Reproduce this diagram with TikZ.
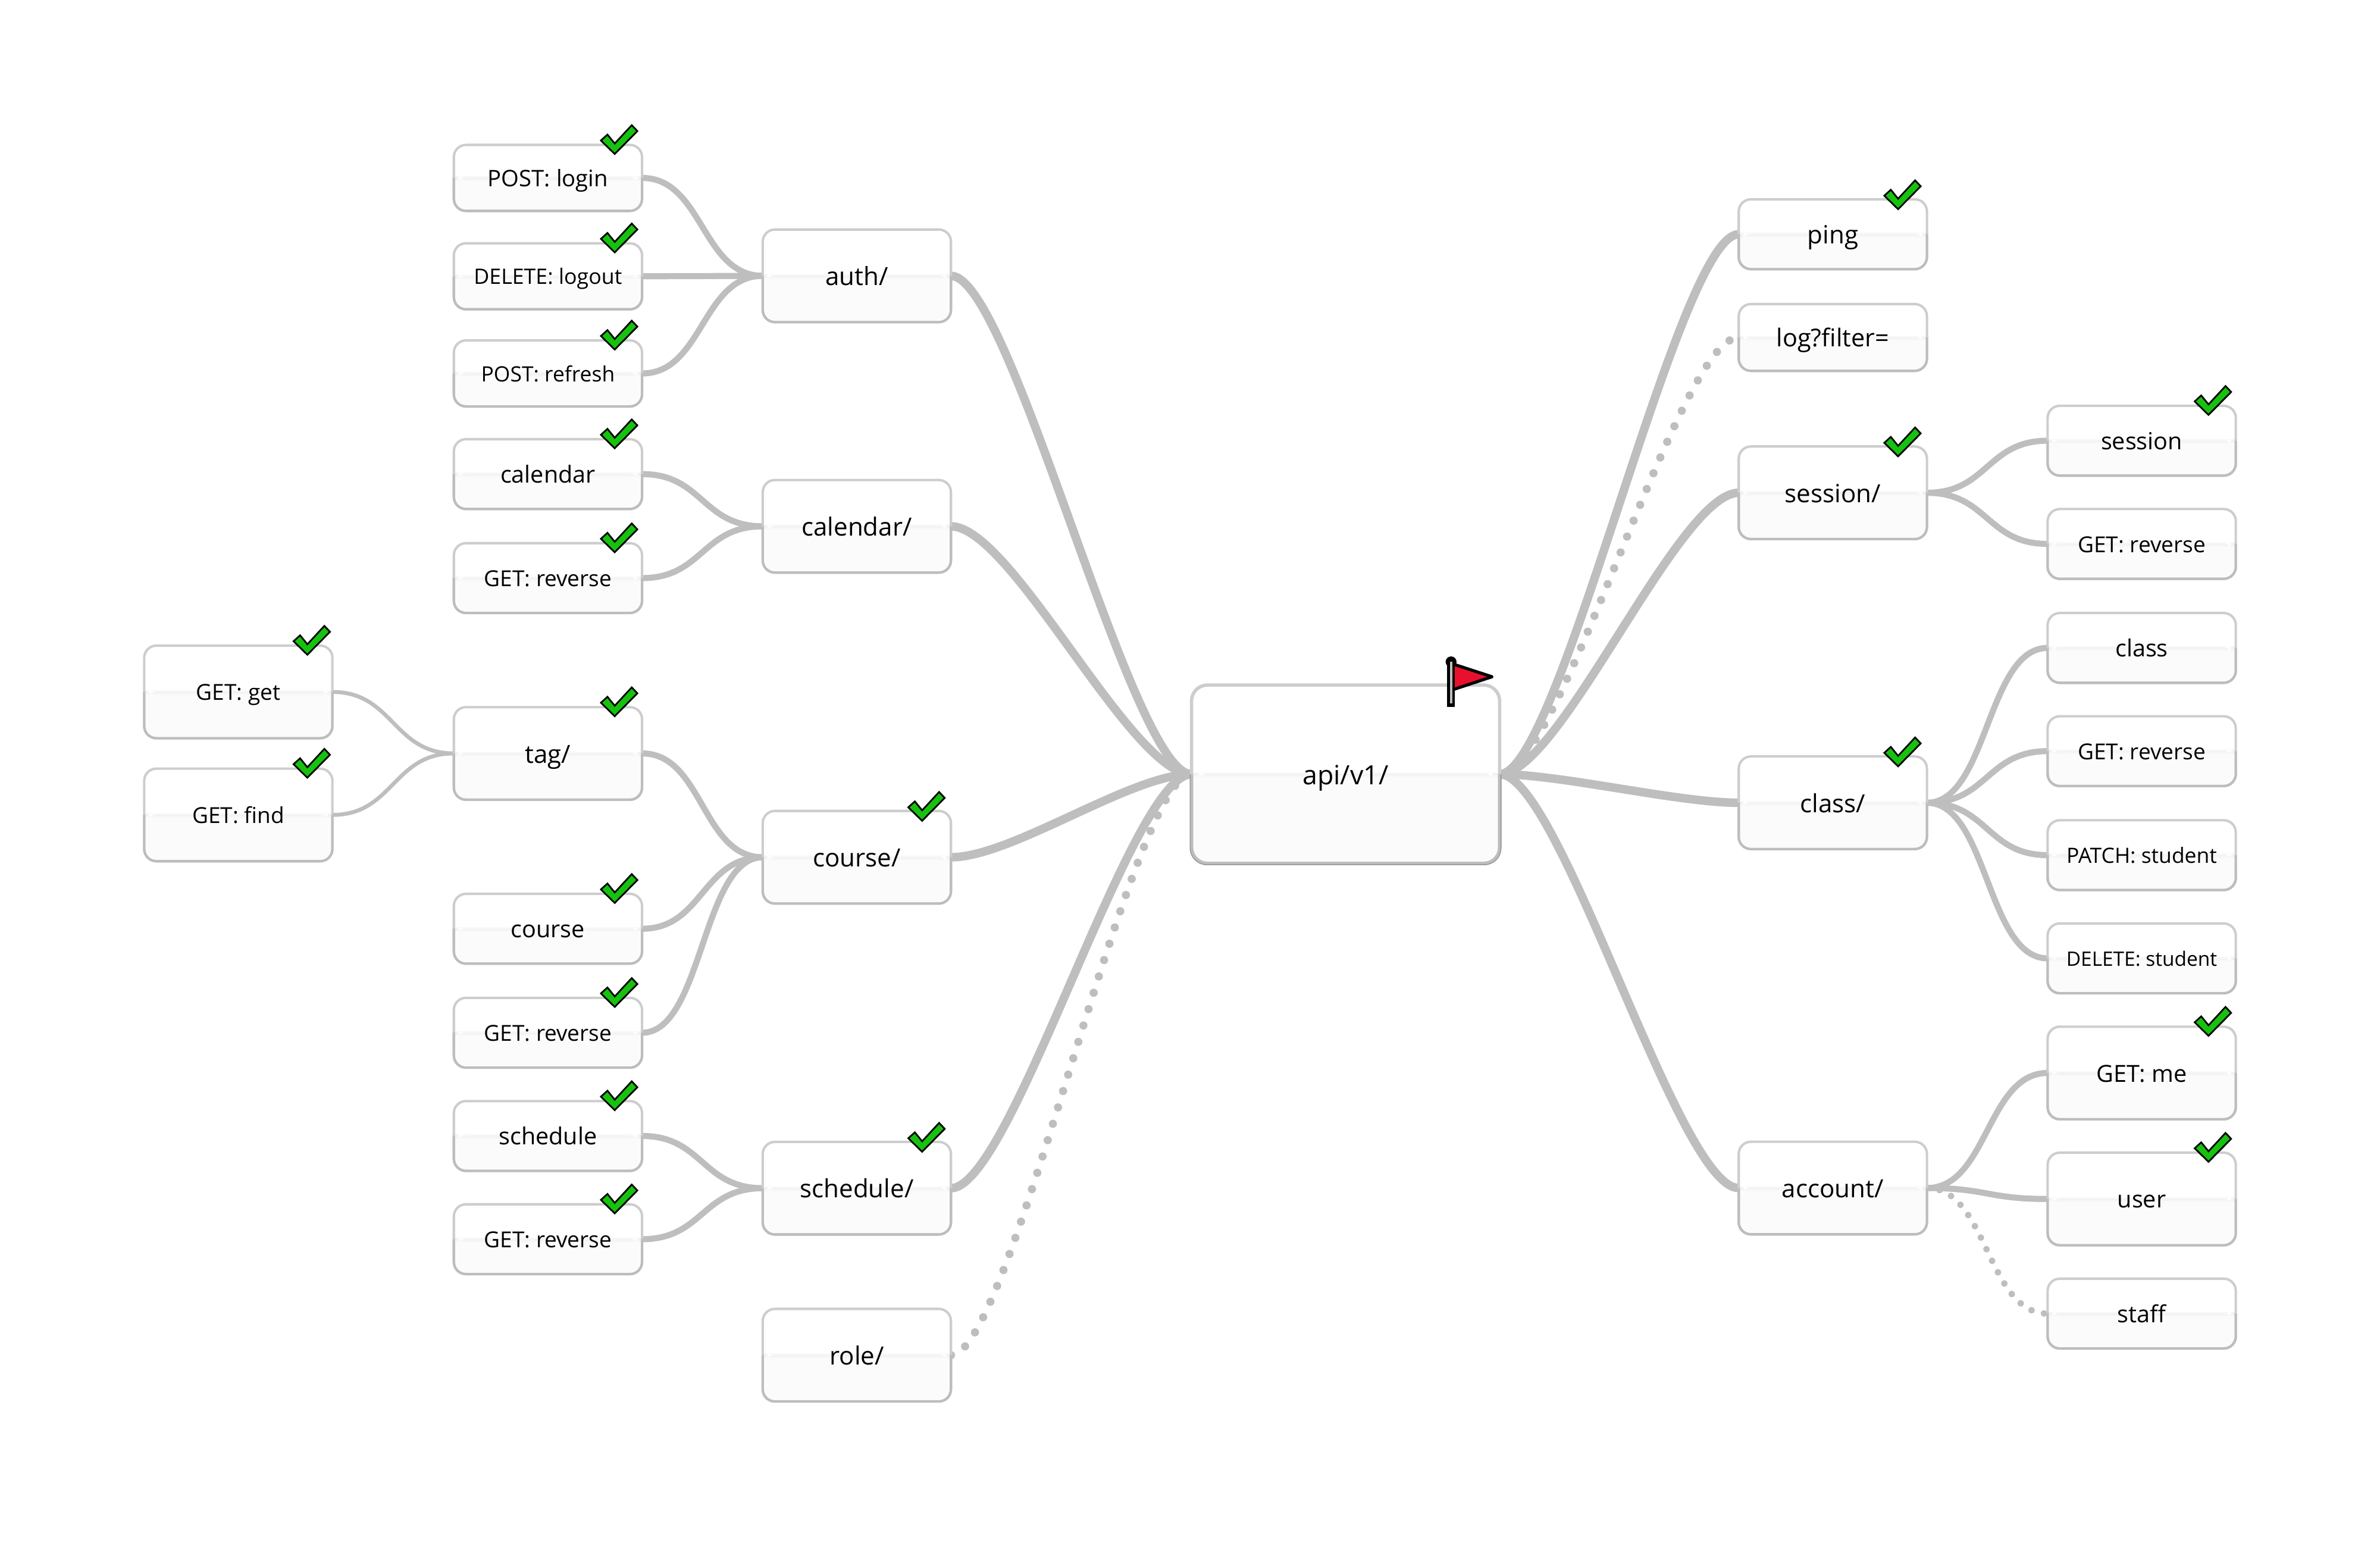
\documentclass[tikz,border=0pt]{standalone}
\usepackage{fontspec}
\setmainfont{Open Sans}
\usetikzlibrary{calc,backgrounds}
\definecolor{edgec}{HTML}{BEBEBE}
\definecolor{topb}{HTML}{CDCDCD}
\definecolor{botb}{HTML}{BDBDBD}
\definecolor{low}{HTML}{FBFBFB}
\definecolor{band}{HTML}{F2F2F2}
\definecolor{chk}{HTML}{17C10F}
\definecolor{flagr}{HTML}{E8112D}
\tikzset{
  x=1pt,y=-1pt,
  card/.style={draw=topb,line width=1.6pt,fill=white,inner sep=0pt,outer sep=0pt,
    rounded corners=#1,
    path picture={
      \fill[low] (path picture bounding box.west) rectangle (path picture bounding box.south east);
      \shade[top color=white,bottom color=band] ($(path picture bounding box.west)+(0,-1.8)$) rectangle (path picture bounding box.east);
      \shade[top color=band,bottom color=low] (path picture bounding box.west) rectangle ($(path picture bounding box.east)+(0,2.2)$);
    }},
  lower/.style={draw=botb,line width=1.6pt,rounded corners=#1},
  e1/.style={draw=edgec,line width=5.6pt},
  e2/.style={draw=edgec,line width=4pt},
  e3/.style={draw=edgec,line width=2.6pt},
  d1/.style={draw=edgec,line width=5.4pt,line cap=round,dash pattern=on 0pt off 11.3pt},
  d2/.style={draw=edgec,line width=4.4pt,line cap=round,dash pattern=on 0pt off 8.5pt},
  tick/.style={fill=chk,draw=black,line width=1.1pt,line join=miter},
  rootedge/.style={draw=black!40,line width=.6pt,rounded corners=11pt},
}
\newcommand{\bx}[7][8]{%
  \node[card=#1pt,minimum width=124pt,minimum height=#5pt,anchor=center] (#2) at (#3)
    {\fontsize{#6pt}{#6pt}\selectfont\rule[-.05em]{0pt}{.86em}\smash{#7}};
  \draw[lower=#1pt] (#2.west) -- (#2.south west) -- (#2.south east) -- (#2.east);
}
\newcommand{\eg}[3]{%
  \draw[#1] let \p1=(#2),\p2=(#3) in (\p1) .. controls (\x1+40pt,\y1) and (\x2-40pt,\y2) .. (\p2);
}
\newcommand{\chkat}[3]{%
  \draw[tick,shift={($(#1.north east)+(#2,#3)$)}] (0,0) -- (-9.1,-8.9) -- (-4.8,-12.8) -- (0,-6.9) -- (11.2,-19) -- (14.9,-15.1) -- cycle;
}
\begin{document}
\begin{tikzpicture}
\useasboundingbox (0,0) rectangle (1568,1018.4);
% root
\node[card=10.5pt,line width=2.2pt,minimum width=203pt,minimum height=117.5pt] (api) at (886.5,510)
  {\fontsize{17.5pt}{17.5pt}\selectfont\rule[-.05em]{0pt}{.86em}\smash{api/v1/}};
\draw[lower=10.5pt,line width=2.2pt] (api.west) -- (api.south west) -- (api.south east) -- (api.east);
\draw[rootedge] ($(api.west)+(-.9,0)$) -- ($(api.south west)+(-.9,.9)$) -- ($(api.south east)+(.9,.9)$) -- ($(api.east)+(.9,0)$);
% level 1 left
\bx{auth}{564.5,181.7}{123}{61}{16.5}{auth/}
\bx{calendarD}{564.5,346.7}{123}{61}{16.5}{calendar/}
\bx{courseD}{564.5,564.7}{123}{61}{16.5}{course/}
\bx{scheduleD}{564.5,782.7}{123}{61}{16.5}{schedule/}
\bx{role}{564.5,892.7}{123}{61}{16.5}{role/}
% level 2 left
\bx{login}{361,117.2}{123}{43.5}{15}{POST: login}
\bx{logout}{361,182}{123}{43.5}{14}{DELETE: logout}
\bx{refresh}{361,246}{123}{43.5}{13.9}{POST: refresh}
\bx{calendar}{361,312.3}{123}{46}{15.5}{calendar}
\bx{calrev}{361,380.8}{123}{46}{14.5}{GET: reverse}
\bx{tag}{361,496.3}{123}{61}{16.5}{tag/}
\bx{course}{361,611.8}{123}{46}{15.5}{course}
\bx{courrev}{361,680.3}{123}{46}{14.5}{GET: reverse}
\bx{schedule}{361,748.3}{123}{46}{15.5}{schedule}
\bx{schedrev}{361,816.3}{123}{46}{14.5}{GET: reverse}
% level 3
\bx{get}{157,455.8}{123}{61}{14.5}{GET: get}
\bx{find}{157,536.8}{123}{61}{14.5}{GET: find}
% level 1 right
\bx{ping}{1207.5,154.3}{123}{46}{16.5}{ping}
\bx{log}{1207.5,222.3}{123}{44}{16.2}{log?filter=}
\bx{sessionD}{1207.5,324.6}{123}{61}{16.5}{session/}
\bx{classD}{1207.5,528.8}{123}{61}{16.5}{class/}
\bx{account}{1207.5,782.6}{123}{61}{16.5}{account/}
% level 2 right
\bx{session}{1411,290.3}{123}{46}{15.5}{session}
\bx{sessrev}{1411,358.3}{123}{46}{14.5}{GET: reverse}
\bx{class}{1411,426.8}{123}{46}{15.5}{class}
\bx{classrev}{1411,494.8}{123}{46}{14.5}{GET: reverse}
\bx{patch}{1411,563.3}{123}{46}{13.9}{PATCH: student}
\bx{delete}{1411,631.3}{123}{46}{13.1}{DELETE: student}
\bx{me}{1411,706.8}{123}{61}{15.5}{GET: me}
\bx{user}{1411,789.8}{123}{61}{15.5}{user}
\bx{staff}{1411,865.3}{123}{46}{15.5}{staff}
% connectors
\begin{scope}[on background layer]
\eg{e1}{auth.east}{api.west}
\eg{e1}{calendarD.east}{api.west}
\eg{e1}{courseD.east}{api.west}
\eg{e1}{scheduleD.east}{api.west}
\eg{d1}{role.east}{api.west}
\eg{e1}{api.east}{ping.west}
\eg{d1}{api.east}{log.west}
\eg{e1}{api.east}{sessionD.west}
\eg{e1}{api.east}{classD.west}
\eg{e1}{api.east}{account.west}
\eg{e2}{login.east}{auth.west}
\eg{e2}{logout.east}{auth.west}
\eg{e2}{refresh.east}{auth.west}
\eg{e2}{calendar.east}{calendarD.west}
\eg{e2}{calrev.east}{calendarD.west}
\eg{e2}{tag.east}{courseD.west}
\eg{e2}{course.east}{courseD.west}
\eg{e2}{courrev.east}{courseD.west}
\eg{e2}{schedule.east}{scheduleD.west}
\eg{e2}{schedrev.east}{scheduleD.west}
\eg{e3}{get.east}{tag.west}
\eg{e3}{find.east}{tag.west}
\eg{e2}{sessionD.east}{session.west}
\eg{e2}{sessionD.east}{sessrev.west}
\eg{e2}{classD.east}{class.west}
\eg{e2}{classD.east}{classrev.west}
\eg{e2}{classD.east}{patch.west}
\eg{e2}{classD.east}{delete.west}
\eg{e2}{account.east}{me.west}
\eg{e2}{account.east}{user.west}
\eg{d2}{account.east}{staff.west}
\end{scope}
% checks
\foreach \n in {login,logout,refresh,calendar,calrev,tag,course,courrev,schedule,schedrev,session,me,user}{\chkat{\n}{-18}{6}}
\foreach \n in {get,find}{\chkat{\n}{-16.5}{6}}
\foreach \n in {courseD,scheduleD,ping,sessionD,classD}{\chkat{\n}{-19}{6.5}}
% flag
\coordinate (fa) at (956,437);
\coordinate (fb) at (983,445.8);
\coordinate (fc) at (956,454.7);
\coordinate (fd) at (956,465.5);
\coordinate (fe) at (956,436);
\draw[fill=flagr,draw=black,line width=2pt,line join=round] (fa) -- (fb) -- (fc) -- cycle;
\draw[black,line width=5pt] (fe) -- (fd);
\fill[black] (fe) circle[radius=3.6pt];
\draw[edgec,line width=1.5pt] (fe) -- ($(fd)+(0,-2)$);
\end{tikzpicture}
\end{document}
